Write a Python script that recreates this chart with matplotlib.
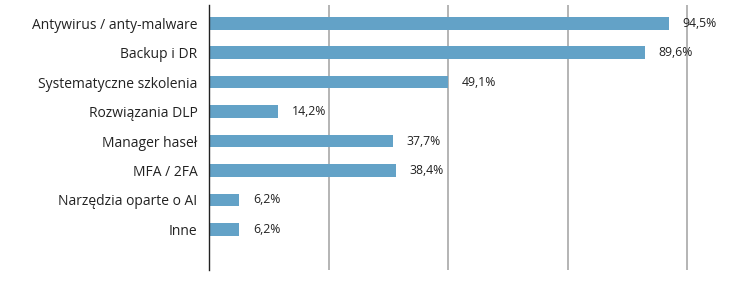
import matplotlib
matplotlib.use("Agg")
import matplotlib.pyplot as plt
from matplotlib.transforms import offset_copy

categories = ["Antywirus / anty-malware", "Backup i DR", "Systematyczne szkolenia",
              "Rozwiązania DLP", "Manager haseł", "MFA / 2FA",
              "Narzędzia oparte o AI", "Inne"]
values = [94.5, 89.6, 49.1, 14.2, 37.7, 38.4, 6.2, 6.2]
labels = ["94,5%", "89,6%", "49,1%", "14,2%", "37,7%", "38,4%", "6,2%", "6,2%"]

GRID_STEP = 24.57
BAR_COLOR = "#63A2C7"

plt.rcParams['font.family'] = ['Open Sans', 'DejaVu Sans']

fig = plt.figure(figsize=(7.36, 2.93), dpi=100)
W, H = 736, 293
left, right, top, bottom = 209.3, 736, 5, 270
ax = fig.add_axes([left / W, 1 - bottom / H, (right - left) / W, (bottom - top) / H])

y = list(range(len(categories)))
ax.barh(y, values, height=0.43, color=BAR_COLOR, zorder=3)

ax.set_ylim(len(categories) - 1 + 1.38, -0.62)
ax.set_xlim(0, (right - left) / 4.86)

ax.set_xticks([GRID_STEP * k for k in range(1, 5)])
ax.grid(axis='x', color='#A8A8A8', linewidth=1.2, zorder=0)
ax.tick_params(axis='x', length=0, labelbottom=False)

ax.set_yticks(y)
ax.set_yticklabels(categories, fontsize=10.0, color='#222222')
ax.tick_params(axis='y', length=0, pad=8.5)

for s in ['top', 'right', 'bottom']:
    ax.spines[s].set_visible(False)
ax.spines['left'].set_color('#222222')
ax.spines['left'].set_linewidth(1.0)
ax.spines['left'].set_zorder(4)

trans = offset_copy(ax.transData, fig=fig, x=14, y=0, units='dots')
for yi, v, lab in zip(y, values, labels):
    ax.text(v, yi, lab, transform=trans, va='center', ha='left',
            fontsize=8.8, color='#222222')

fig.savefig("out.png", dpi=100)
